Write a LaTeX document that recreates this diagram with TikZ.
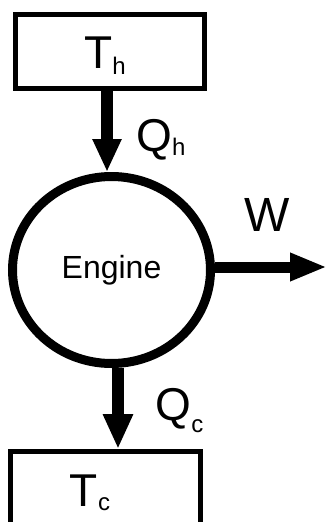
\documentclass[tikz,border=0pt]{standalone}
\usepackage{fontspec}
\setmainfont{Liberation Sans}
\usetikzlibrary{shapes.geometric,arrows.meta,calc}
\tikzset{
    reservoir/.style={rectangle, draw=black, line width=5pt, minimum width=190pt, minimum height=74pt},
    engineshape/.style={ellipse, draw=black, line width=9pt, minimum width=198pt, minimum height=187pt, inner sep=0pt, font=\fontsize{32}{32}\selectfont},
    biglabel/.style={font=\fontsize{46}{46}\selectfont, inner sep=0pt},
    flow/.style={line width=12.5pt, -{Triangle[length=33pt,width=27pt]}},
}
\newcommand{\lowsub}[2]{\raisebox{-#1}{\fontsize{24}{24}\selectfont #2}}

\begin{document}
\begin{tikzpicture}[x=1pt,y=-1pt]
    \useasboundingbox (0,0) rectangle (328,522);
    % reservoirs and engine
    \node[reservoir, minimum width=189pt] (hot) at (110,51) {};
    \node[reservoir] (cold) at (105.5,488.5) {};
    \node[engineshape] (engine) at (111.5,270) {Engine};
    \node[biglabel] (th) at ($(hot)+(-5,4.5)$) {T\lowsub{6pt}{h}};
    \node[biglabel] (tc) at ($(cold)+(-15.5,4)$) {T\lowsub{4pt}{c}};
    % heat and work flows
    \coordinate (qhtop) at ([xshift=-3pt]hot.south);
    \coordinate (qcbot) at ([xshift=6.5pt]engine.south);
    \coordinate (wstart) at ([yshift=3pt]engine.east);
    \coordinate (wend) at (327,267);
    \draw[flow] (qhtop) -- (qhtop |- engine.north);
    \draw[flow, -{Triangle[length=35pt,width=28pt]}] (qcbot) -- (qcbot |- cold.north);
    \draw[flow, line width=11pt, -{Triangle[length=37pt,width=26pt]}] (wstart) -- (wend);
    \node[biglabel] (qh) at (161,139.5) {Q\lowsub{4pt}{h}};
    \node[biglabel] (qc) at (179.5,410.5) {Q\lowsub{12pt}{c}};
    \node[biglabel, font=\fontsize{48}{48}\selectfont] (w) at (267,215) {W};
\end{tikzpicture}
\end{document}
